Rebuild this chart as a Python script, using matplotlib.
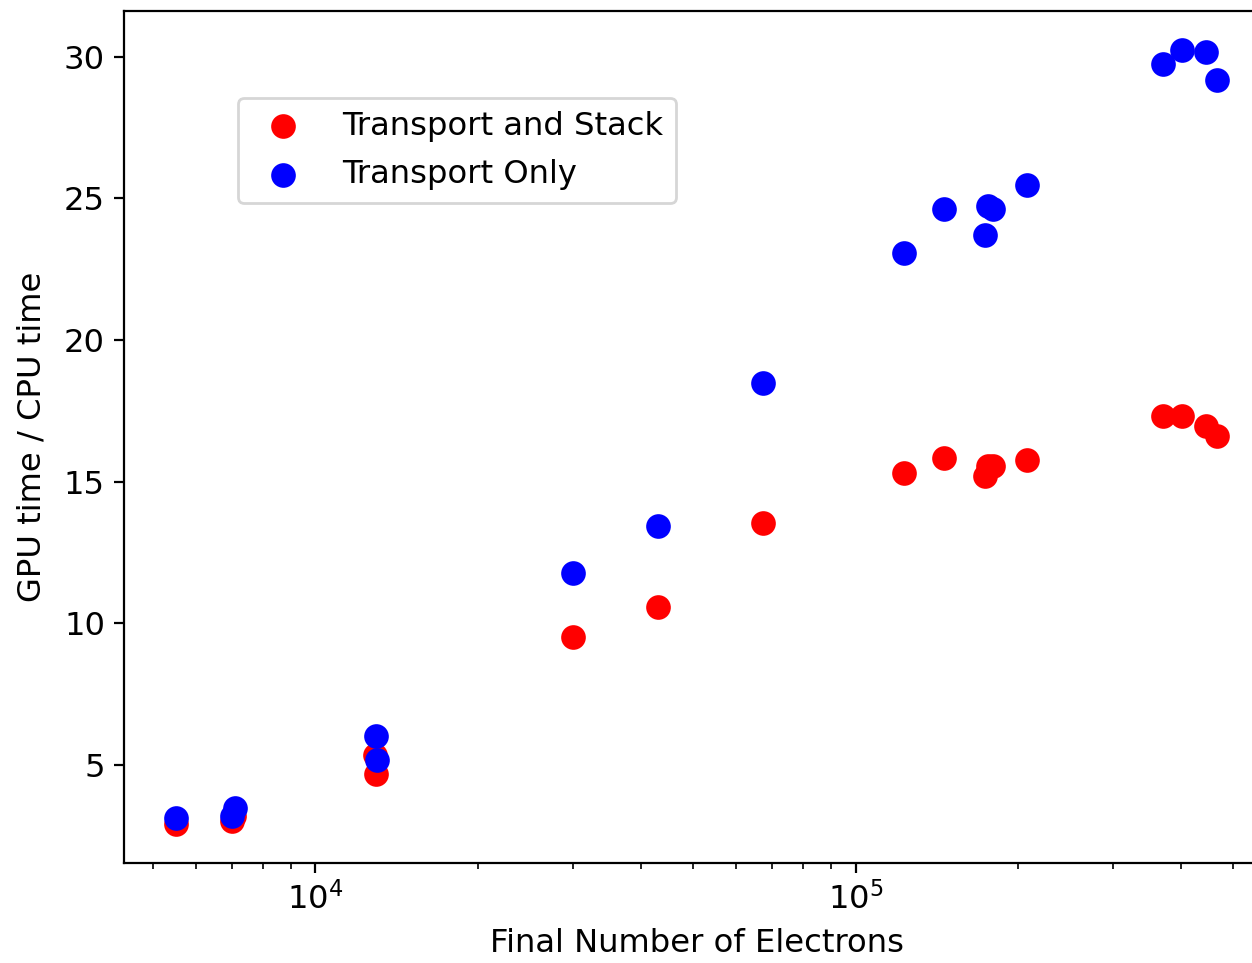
"""
GPU/CPU time ratio vs final number of electrons.
"""

import matplotlib
matplotlib.use('Agg')
import matplotlib.pyplot as plt

# data
electrons_stack = [5530, 7020, 7080, 12900, 12950, 30000, 43000, 67300,
                   123000, 146000, 174000, 176000, 180000, 208000,
                   371000, 403000, 445000, 467000]
ratio_stack = [2.92, 3.03, 3.2, 5.35, 4.68, 9.51, 10.57, 13.53,
               15.30, 15.83, 15.19, 15.54, 15.55, 15.75,
               17.31, 17.31, 16.95, 16.60]

electrons_transport = [5530, 7100, 7020, 12950, 12980, 30000, 43000, 67300,
                       123000, 146000, 174000, 176000, 180000, 208000,
                       371000, 403000, 445000, 467000]
ratio_transport = [3.13, 3.48, 3.20, 6.02, 5.18, 11.77, 13.43, 18.47,
                   23.09, 24.61, 23.72, 24.75, 24.64, 25.49,
                   29.75, 30.25, 30.18, 29.19]

plt.rcParams['font.size'] = 11.6

fig = plt.figure(figsize=(6.26, 4.815), dpi=200)
ax = fig.add_axes([0.0994, 0.1042, 0.9142, 0.8844])

ax.scatter(electrons_stack, ratio_stack, s=62, color='red',
           label='Transport and Stack')
ax.scatter(electrons_transport, ratio_transport, s=62, color='blue',
           label='Transport Only')
ax.set_xscale('log')

ax.set_xlabel('Final Number of Electrons')
ax.set_ylabel('GPU time / CPU time', labelpad=6)
ax.set_yticks([5, 10, 15, 20, 25, 30])

ax.legend(loc='upper left', bbox_to_anchor=(0.099, 0.898), borderaxespad=0,
          scatterpoints=1, handletextpad=0.85, labelspacing=0.55)

fig.savefig('out.png', dpi=200)
